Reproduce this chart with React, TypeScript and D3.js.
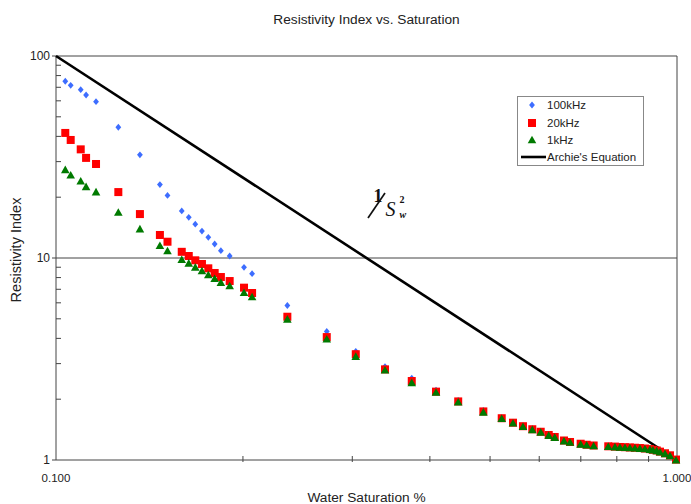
import React from "react";
import * as d3 from "d3";

const title = "Resistivity Index vs. Saturation";
const xTitle = "Water Saturation %";
const yTitle = "Resistivity Index";
const seriesNames = ["100kHz", "20kHz", "1kHz", "Archie's Equation"];

const saturation = [
  0.1035, 0.1056, 0.1096, 0.1118, 0.116, 0.126, 0.1365, 0.147, 0.1512, 0.1594,
  0.1636, 0.1676, 0.1718, 0.1759, 0.1801, 0.1843, 0.1904, 0.2008, 0.2069, 0.2358,
  0.2729, 0.3039, 0.3387, 0.374, 0.4092, 0.4443, 0.4877, 0.5221, 0.5444, 0.5649,
  0.5848, 0.6033, 0.6215, 0.6355, 0.6577, 0.6726, 0.6996, 0.7154, 0.7342, 0.775,
  0.7945, 0.8093, 0.8245, 0.8398, 0.8556, 0.8715, 0.8879, 0.9045, 0.9146, 0.9276,
  0.9389, 0.9565, 0.9744, 0.9963,
];

const ri100k = [
  74.98, 71.6, 68.1, 64.1, 59.4, 44.4, 32.4, 23.1, 20.4, 17.1,
  15.9, 14.7, 13.6, 12.66, 11.73, 10.87, 10.23, 8.99, 8.36, 5.82,
  4.33, 3.45, 2.9, 2.54, 2.22, 1.97, 1.76, 1.62, 1.54, 1.48,
  1.43, 1.39, 1.34, 1.31, 1.255, 1.232, 1.208, 1.193, 1.183, 1.172,
  1.168, 1.163, 1.16, 1.157, 1.153, 1.149, 1.143, 1.135, 1.127, 1.118,
  1.103, 1.083, 1.058, 1.01,
];

const ri20k = [
  41.6, 38.4, 34.5, 31.3, 29.2, 21.2, 16.5, 13.0, 12.04, 10.73,
  10.23, 9.74, 9.34, 8.89, 8.43, 8.05, 7.69, 7.13, 6.71, 5.12,
  4.06, 3.34, 2.81, 2.46, 2.18, 1.95, 1.74, 1.61, 1.53, 1.47,
  1.42, 1.38, 1.33, 1.3, 1.249, 1.228, 1.204, 1.19, 1.18, 1.169,
  1.165, 1.16, 1.157, 1.154, 1.15, 1.146, 1.14, 1.132, 1.124, 1.115,
  1.1, 1.08, 1.055, 1.005,
];

const ri1k = [
  27.3, 25.7, 24.0, 22.5, 21.2, 16.8, 13.9, 11.5, 10.83, 9.81,
  9.41, 8.99, 8.62, 8.24, 7.9, 7.55, 7.27, 6.73, 6.41, 4.97,
  3.96, 3.25, 2.78, 2.41, 2.16, 1.93, 1.72, 1.6, 1.52, 1.46,
  1.41, 1.37, 1.32, 1.29, 1.24, 1.22, 1.195, 1.183, 1.173, 1.163,
  1.158, 1.153, 1.15, 1.147, 1.143, 1.139, 1.133, 1.126, 1.118, 1.108,
  1.093, 1.072, 1.047, 0.998,
];

const archieSw = [0.1, 1.0];
const archieRI = [100, 1];

const xMinorTicks = [0.2, 0.3, 0.4, 0.5, 0.6, 0.7, 0.8, 0.9];
const xTickLabels = ["0.100", "1.000"];
const xTickValues = [0.1, 1.0];
const yMajorTicks = [1, 10, 100];
const yTickLabels = ["1", "10", "100"];
const yMinorTicks = [2, 3, 4, 5, 6, 7, 8, 9, 20, 30, 40, 50, 60, 70, 80, 90];

const W = 691;
const H = 504;
const L = 56, R = 677, T = 56, B = 460;

const font = "'Liberation Sans', Arial, Helvetica, sans-serif";
const serif = "'Liberation Serif', 'Times New Roman', serif";
const axisColor = "#444";
const textColor = "#222";
const blue = "#3d6dff";
const red = "#ff0000";
const green = "#007a00";

const diamond = (cx: number, cy: number) =>
  `M${cx},${cy - 3.4}L${cx + 2.9},${cy}L${cx},${cy + 3.4}L${cx - 2.9},${cy}Z`;
const triangle = (cx: number, cy: number) =>
  `M${cx},${cy - 4.3}L${cx + 4.3},${cy + 3.3}L${cx - 4.3},${cy + 3.3}Z`;

export default function App() {
  const x = d3.scaleLog().domain([0.1, 1]).range([L, R]);
  const y = d3.scaleLog().domain([1, 100]).range([B, T]);
  const line = d3
    .line<number>()
    .x((_, i) => x(archieSw[i]))
    .y((d) => y(d));

  const lx = 532;
  const ly = [105, 123, 140, 157];

  return (
    <svg
      width={W}
      height={H}
      style={{ position: "absolute", left: 0, top: 0, background: "#fff" }}
    >
      <rect x={0} y={0} width={W} height={H} fill="#fff" />
      <text x={(L + R) / 2} y={24} textAnchor="middle" fontFamily={font} fontSize={13.7} fill={textColor}>
        {title}
      </text>

      {/* frame */}
      <line x1={L} x2={R} y1={T} y2={T} stroke={axisColor} strokeWidth={1} />
      <line x1={R} x2={R} y1={T} y2={B} stroke={axisColor} strokeWidth={1} />
      <line x1={L} x2={R} y1={y(10)} y2={y(10)} stroke={axisColor} strokeWidth={1} />
      <line x1={L} x2={L} y1={T} y2={B} stroke={axisColor} strokeWidth={1} />
      <line x1={L} x2={R} y1={B} y2={B} stroke={axisColor} strokeWidth={1} />

      {/* y ticks */}
      {yMajorTicks.map((v, i) => (
        <g key={"ym" + v}>
          <line x1={L - 4} x2={L} y1={y(v)} y2={y(v)} stroke={axisColor} />
          <text x={L - 6} y={y(v) + 4} textAnchor="end" fontFamily={font} fontSize={12} fill={textColor}>
            {yTickLabels[i]}
          </text>
        </g>
      ))}
      {yMinorTicks.map((v) => (
        <line key={"yn" + v} x1={L} x2={L + 5} y1={y(v)} y2={y(v)} stroke={axisColor} />
      ))}

      {/* x ticks */}
      {xMinorTicks.map((v) => (
        <line key={"xn" + v} x1={x(v)} x2={x(v)} y1={B - 4} y2={B + 2} stroke={axisColor} />
      ))}
      {xTickValues.map((v, i) => (
        <text key={"xl" + v} x={x(v)} y={482} textAnchor="middle" fontFamily={font} fontSize={11.5} fill={textColor}>
          {xTickLabels[i]}
        </text>
      ))}

      <text x={(L + R) / 2} y={502} textAnchor="middle" fontFamily={font} fontSize={13.7} fill={textColor}>
        {xTitle}
      </text>
      <text
        transform={`translate(21,${(T + B) / 2 - 8}) rotate(-90)`}
        textAnchor="middle"
        fontFamily={font}
        fontSize={14.5}
        fill={textColor}
      >
        {yTitle}
      </text>

      {/* Archie line */}
      <path d={line(archieRI) || ""} fill="none" stroke="#000" strokeWidth={2.6} />

      {/* series */}
      {ri100k.map((v, i) => (
        <path key={"b" + i} d={diamond(x(saturation[i]), y(v))} fill={blue} />
      ))}
      {ri20k.map((v, i) => (
        <rect key={"r" + i} x={x(saturation[i]) - 4} y={y(v) - 4} width={8} height={8} fill={red} />
      ))}
      {ri1k.map((v, i) => (
        <path key={"g" + i} d={triangle(x(saturation[i]), y(v))} fill={green} />
      ))}

      {/* annotation */}
      <text x={373.5} y={202} fontFamily={serif} fontSize={18} fontWeight="bold" fill="#111">1</text>
      <line x1={368} y1={218} x2={385} y2={193} stroke="#111" strokeWidth={1.7} />
      <text x={385.5} y={215.5} fontFamily={serif} fontSize={20} fontStyle="italic" fill="#111">S</text>
      <text x={399.5} y={203} fontFamily={serif} fontSize={10} fontWeight="bold" fill="#111">2</text>
      <text x={399.5} y={217.5} fontFamily={serif} fontSize={10} fontStyle="italic" fontWeight="bold" fill="#111">w</text>

      {/* legend */}
      <rect x={517.5} y={96.5} width={126} height={69} fill="#fff" stroke="#888" strokeWidth={1} />
      <path d={diamond(lx, ly[0])} fill={blue} />
      <rect x={lx - 4} y={ly[1] - 4} width={8} height={8} fill={red} />
      <path d={triangle(lx, ly[2])} fill={green} />
      <line x1={521} x2={546} y1={ly[3]} y2={ly[3]} stroke="#000" strokeWidth={2.6} />
      {seriesNames.map((n, i) => (
        <text key={n} x={547} y={ly[i] + 4} fontFamily={font} fontSize={11.5} fill={textColor}>
          {n}
        </text>
      ))}
    </svg>
  );
}
